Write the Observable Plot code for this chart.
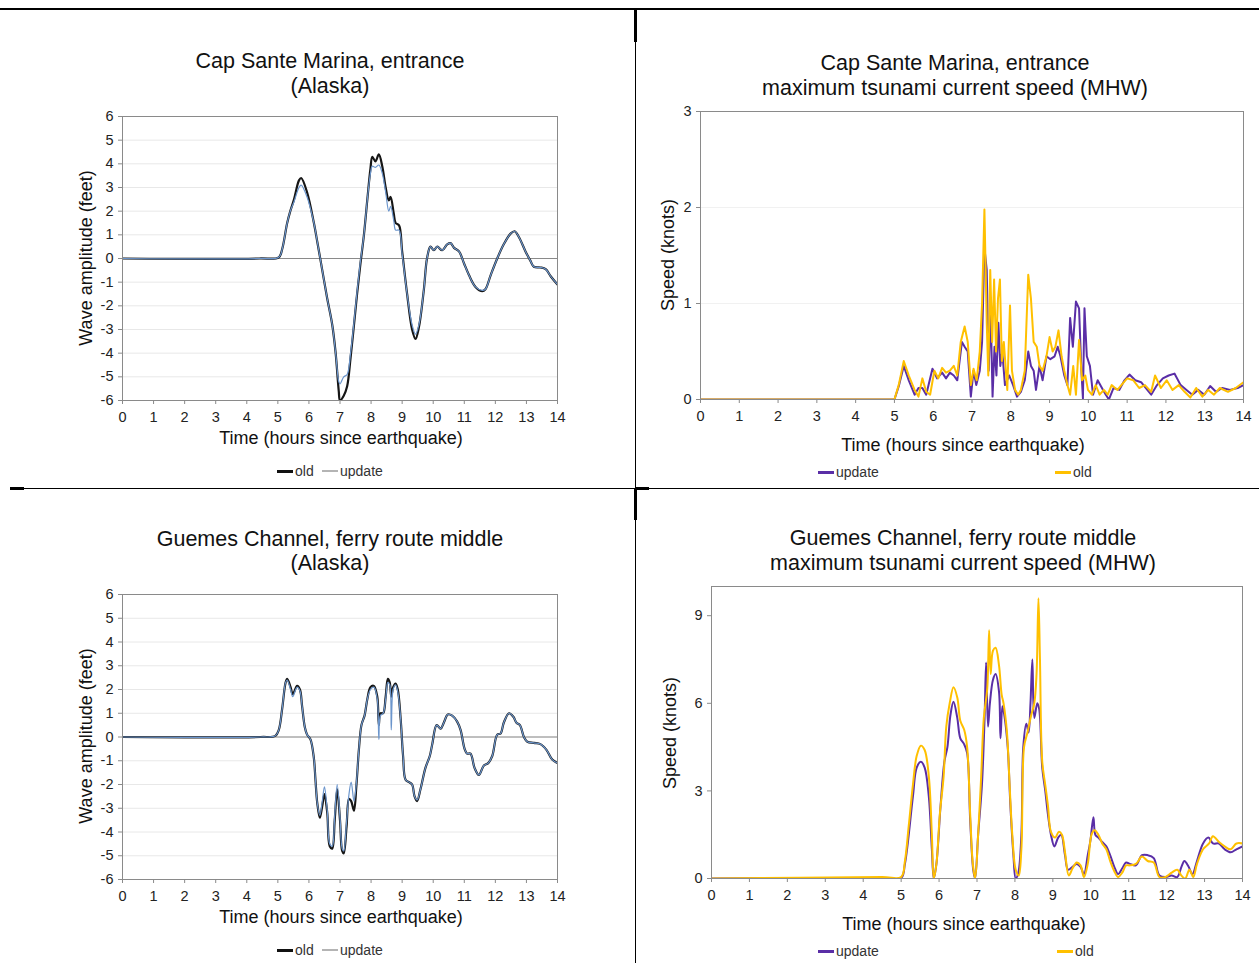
<!DOCTYPE html>
<html><head><meta charset="utf-8">
<script src="https://cdn.jsdelivr.net/npm/d3@7"></script>
<script src="https://cdn.jsdelivr.net/npm/@observablehq/plot@0.6"></script>
<style>
body{margin:0;background:#fff;}
#page{position:relative;width:1259px;height:963px;overflow:hidden;font-family:"Liberation Sans",Arial,sans-serif;color:#111;background:#fff;}
.t{position:absolute;white-space:nowrap;transform:translate(-50%,-50%);line-height:1;}
.rot{position:absolute;white-space:nowrap;transform:translate(-50%,-50%) rotate(-90deg);line-height:1;font-size:18px;}
.rule{position:absolute;background:#000;}
.panel{position:absolute;}
.leg{position:absolute;font-size:14px;white-space:nowrap;transform:translateY(-50%);display:flex;align-items:center;color:#333;line-height:1;}
.leg i{display:inline-block;width:16px;margin-right:2px;}
</style></head><body><div id="page"></div>
<script>
// ---------- data ----------
const hourTicks = [0,1,2,3,4,5,6,7,8,9,10,11,12,13,14];
const waveTicks = [-6,-5,-4,-3,-2,-1,0,1,2,3,4,5,6];
const capSpeedTicks = [0,1,2,3];
const gueSpeedTicks = [0,3,6,9];

// Cap Sante Marina, entrance - wave amplitude (feet)
const capT = [0,4.4,5.03,5.14,5.3,5.4,5.52,5.68,5.75,5.94,6.16,6.27,6.43,6.59,6.75,6.86,6.96,7.0,7.12,7.23,7.34,7.45,7.55,7.66,7.77,7.88,7.98,8.04,8.14,8.25,8.36,8.47,8.57,8.63,8.73,8.79,8.9,9.0,9.16,9.32,9.43,9.54,9.7,9.8,9.91,10.02,10.13,10.29,10.45,10.56,10.67,10.83,10.99,11.15,11.36,11.58,11.68,11.85,12.06,12.27,12.49,12.62,12.76,12.97,13.13,13.24,13.45,13.62,13.78,14.0];
const capOld = [0,0,0.05,0.4,1.5,2.0,2.5,3.3,3.4,2.8,1.5,0.7,-0.5,-1.7,-2.8,-4.0,-5.6,-6.0,-5.8,-5.4,-4.2,-2.8,-1.5,-0.2,1.0,2.5,3.8,4.3,4.1,4.4,3.9,3.0,2.45,2.6,1.9,1.5,1.4,0.3,-1.5,-3.0,-3.4,-2.9,-1.3,0.0,0.5,0.35,0.5,0.35,0.6,0.65,0.45,0.3,-0.2,-0.7,-1.2,-1.38,-1.3,-0.7,0.0,0.6,1.05,1.15,0.9,0.3,-0.1,-0.35,-0.38,-0.45,-0.75,-1.1];
const capUpd = [0,0,0.05,0.4,1.5,2.0,2.4,3.0,3.1,2.6,1.5,0.7,-0.5,-1.7,-2.8,-4.0,-5.2,-5.3,-5.0,-4.9,-4.0,-2.7,-1.4,-0.1,1.0,2.5,3.6,3.9,3.85,3.95,3.6,2.8,2.0,2.2,1.6,1.2,1.2,0.2,-1.5,-2.8,-3.2,-2.8,-1.3,0.0,0.5,0.35,0.5,0.35,0.6,0.65,0.45,0.3,-0.2,-0.7,-1.2,-1.35,-1.3,-0.7,0.0,0.6,1.05,1.15,0.9,0.3,-0.1,-0.35,-0.38,-0.45,-0.75,-1.1];

// Guemes Channel, ferry route middle - wave amplitude (feet)
const gueT = [0,4.44,4.92,5.03,5.14,5.25,5.3,5.41,5.48,5.62,5.71,5.78,5.87,5.94,6.05,6.16,6.21,6.27,6.35,6.43,6.5,6.59,6.67,6.75,6.83,6.91,7.0,7.07,7.12,7.21,7.29,7.36,7.45,7.53,7.61,7.69,7.79,7.88,7.98,8.09,8.2,8.25,8.3,8.39,8.47,8.54,8.6,8.65,8.71,8.79,8.86,8.95,9.03,9.11,9.22,9.32,9.4,9.48,9.59,9.75,9.89,9.97,10.11,10.24,10.34,10.47,10.61,10.77,10.88,11.01,11.09,11.2,11.33,11.47,11.63,11.77,11.9,12.06,12.17,12.27,12.44,12.58,12.68,12.79,12.92,13.03,13.24,13.45,13.65,13.83,14.0];
const gueOld = [0,0,0.05,0.3,1.2,2.3,2.45,2.1,1.8,2.15,2.0,1.3,0.4,0.1,-0.1,-0.9,-1.8,-2.8,-3.4,-2.9,-2.4,-3.2,-4.6,-4.7,-3.5,-2.2,-3.5,-4.8,-4.9,-3.8,-2.6,-2.7,-3.1,-2.0,-0.5,0.5,0.9,1.6,2.1,2.15,1.7,0.5,1.0,1.0,1.7,2.45,2.3,1.7,2.1,2.25,2.0,0.8,-0.8,-1.8,-1.9,-2.0,-2.5,-2.7,-2.2,-1.3,-0.8,-0.3,0.5,0.35,0.6,0.95,0.9,0.65,0.3,-0.5,-0.7,-0.7,-1.3,-1.6,-1.2,-1.1,-0.8,0.1,0.15,0.6,1.0,0.85,0.6,0.5,0.0,-0.2,-0.25,-0.3,-0.55,-0.95,-1.1];
const gueUpd = [0,0,0.05,0.3,1.2,2.3,2.4,2.0,1.7,2.1,1.95,1.3,0.4,0.1,-0.1,-0.9,-1.8,-2.8,-3.3,-2.7,-2.1,-3.1,-4.5,-4.6,-3.3,-2.0,-3.4,-4.7,-4.8,-3.6,-2.4,-1.9,-2.7,-1.9,-0.5,0.5,0.9,1.6,2.0,2.1,1.6,-0.1,0.9,1.0,1.6,2.3,2.2,0.3,2.0,2.2,1.9,0.8,-0.8,-1.8,-1.9,-2.0,-2.5,-2.65,-2.2,-1.3,-0.8,-0.3,0.5,0.35,0.6,0.95,0.9,0.65,0.3,-0.5,-0.7,-0.7,-1.3,-1.6,-1.2,-1.1,-0.8,0.1,0.15,0.6,1.0,0.85,0.6,0.5,0.0,-0.2,-0.25,-0.3,-0.55,-0.95,-1.1];

// Cap Sante Marina, entrance - max current speed (knots)
const capSpdOldT = [0,5.0,5.11,5.24,5.37,5.52,5.62,5.72,5.82,5.92,6.03,6.13,6.23,6.33,6.43,6.53,6.62,6.71,6.81,6.89,6.97,7.04,7.12,7.2,7.26,7.32,7.38,7.42,7.47,7.52,7.57,7.62,7.67,7.72,7.77,7.82,7.91,7.98,8.03,8.11,8.19,8.26,8.36,8.45,8.52,8.59,8.67,8.74,8.82,8.92,9.0,9.08,9.15,9.23,9.31,9.38,9.46,9.53,9.61,9.68,9.76,9.84,9.92,9.99,10.09,10.19,10.29,10.4,10.5,10.6,10.75,10.85,11.0,11.16,11.31,11.46,11.62,11.72,11.87,12.02,12.17,12.33,12.48,12.63,12.78,12.94,13.09,13.24,13.39,13.6,13.8,14.0];
const capSpdOld = [0,0,0.15,0.4,0.25,0.1,0.03,0.22,0.08,0.05,0.3,0.22,0.33,0.28,0.3,0.35,0.25,0.6,0.76,0.6,0.15,0.32,0.2,0.5,1.0,1.98,0.8,0.25,1.35,0.6,1.25,0.5,1.05,1.25,0.4,0.6,0.1,0.98,0.3,0.1,0.05,0.1,0.3,1.3,1.05,0.6,0.55,0.35,0.3,0.45,0.65,0.5,0.55,0.72,0.45,0.3,0.15,0.05,0.35,0.05,0.62,0.2,0.25,0.1,0.05,0.15,0.05,0.1,0.05,0.15,0.1,0.15,0.22,0.2,0.12,0.15,0.08,0.25,0.12,0.2,0.1,0.15,0.08,0.02,0.12,0.03,0.1,0.05,0.12,0.08,0.12,0.18];
const capSpdUpdT = [0,5.0,5.12,5.24,5.37,5.52,5.62,5.72,5.82,5.98,6.1,6.23,6.33,6.43,6.53,6.62,6.74,6.81,6.89,6.97,7.04,7.11,7.2,7.26,7.32,7.38,7.43,7.48,7.53,7.58,7.63,7.68,7.73,7.78,7.85,7.96,8.06,8.16,8.26,8.36,8.45,8.52,8.59,8.65,8.74,8.82,8.92,9.02,9.13,9.21,9.28,9.38,9.46,9.53,9.6,9.68,9.76,9.82,9.86,9.9,9.96,10.04,10.12,10.24,10.35,10.45,10.53,10.65,10.8,10.93,11.06,11.21,11.36,11.52,11.62,11.77,11.92,12.07,12.22,12.38,12.53,12.68,12.83,12.99,13.14,13.29,13.45,13.65,13.85,14.0];
const capSpdUpd = [0,0,0.15,0.35,0.2,0.05,0.12,0.12,0.05,0.32,0.22,0.28,0.22,0.28,0.25,0.2,0.6,0.55,0.5,0.03,0.3,0.15,0.3,0.6,1.58,1.35,0.3,0.95,0.03,0.55,0.25,0.8,0.35,0.5,0.15,0.25,0.15,0.03,0.08,0.2,0.5,0.35,0.3,0.1,0.35,0.2,0.45,0.42,0.45,0.55,0.45,0.25,0.15,0.85,0.55,1.02,0.95,0.3,0.01,0.95,0.45,0.35,0.05,0.2,0.12,0.05,0.0,0.12,0.1,0.2,0.26,0.2,0.18,0.1,0.05,0.15,0.22,0.25,0.27,0.15,0.1,0.05,0.1,0.05,0.14,0.08,0.12,0.1,0.12,0.15];

// Guemes Channel, ferry route middle - max current speed (knots)
const gueSpdOldT = [0,4.5,5.0,5.1,5.2,5.31,5.41,5.52,5.62,5.73,5.81,5.86,5.93,6.02,6.12,6.19,6.28,6.38,6.48,6.56,6.66,6.74,6.82,6.89,6.95,7.03,7.11,7.18,7.27,7.32,7.36,7.42,7.49,7.58,7.65,7.7,7.79,7.86,7.93,8.02,8.1,8.17,8.24,8.33,8.43,8.51,8.57,8.62,8.66,8.72,8.8,8.87,8.95,9.06,9.16,9.24,9.32,9.42,9.52,9.63,9.73,9.82,9.92,10.02,10.1,10.2,10.3,10.41,10.51,10.62,10.72,10.83,10.93,11.03,11.19,11.35,11.5,11.66,11.81,11.97,12.13,12.28,12.39,12.49,12.6,12.7,12.8,12.96,13.12,13.22,13.38,13.53,13.69,13.84,14.0];
const gueSpdOld = [0,0.05,0.05,0.6,1.8,3.2,4.2,4.55,4.4,3.5,1.5,0.0,0.5,2.2,3.5,5.2,6.0,6.55,6.2,5.4,5.1,4.5,2.2,0.5,0.0,1.5,3.5,5.5,6.5,8.5,7.0,7.8,7.9,7.3,6.3,6.0,5.0,3.2,1.5,0.3,0.1,1.0,4.5,5.0,5.6,6.0,7.0,9.6,7.5,4.0,3.2,2.5,1.6,1.4,1.6,1.5,0.9,0.1,0.35,0.55,0.45,0.05,0.5,1.5,1.65,1.5,1.2,1.0,0.6,0.25,0.05,0.2,0.45,0.45,0.5,0.75,0.6,0.55,0.05,0.05,0.2,0.3,0.1,0.0,0.3,0.05,0.5,1.0,1.2,1.45,1.25,1.1,1.0,1.2,1.2];
const gueSpdUpdT = [0,4.5,5.0,5.1,5.31,5.41,5.52,5.62,5.73,5.81,5.86,5.93,6.04,6.14,6.22,6.3,6.38,6.48,6.56,6.66,6.74,6.82,6.9,6.95,7.03,7.13,7.2,7.24,7.29,7.34,7.42,7.49,7.58,7.62,7.67,7.72,7.81,7.88,7.96,8.02,8.09,8.17,8.22,8.3,8.36,8.41,8.46,8.51,8.59,8.64,8.72,8.8,8.87,8.95,9.04,9.14,9.22,9.32,9.4,9.52,9.63,9.73,9.82,9.92,9.99,10.07,10.12,10.2,10.3,10.41,10.51,10.62,10.72,10.83,10.93,11.03,11.19,11.35,11.5,11.66,11.81,11.97,12.13,12.28,12.39,12.47,12.58,12.68,12.8,12.96,13.1,13.22,13.38,13.53,13.69,13.84,14.0];
const gueSpdUpd = [0,0.02,0.02,0.5,2.8,3.8,4.0,3.8,2.8,1.0,0.0,0.5,2.5,4.0,4.5,5.6,6.05,5.5,4.8,4.6,4.3,2.0,0.3,0.0,1.5,3.2,5.5,7.4,5.2,6.0,6.8,7.0,6.4,4.8,5.9,5.6,4.5,2.5,0.8,0.0,0.2,1.5,4.5,5.3,5.0,6.0,7.5,5.5,6.0,5.8,3.8,3.0,2.2,1.5,1.1,1.4,1.5,0.8,0.3,0.4,0.5,0.4,0.15,0.8,1.3,2.1,1.5,1.4,1.25,1.1,0.8,0.4,0.15,0.35,0.55,0.5,0.45,0.8,0.8,0.7,0.1,0.05,0.1,0.05,0.4,0.6,0.4,0.15,0.6,1.2,1.4,1.2,1.2,1.0,0.9,1.0,1.1];

// ---------- styles ----------
const OLD_WAVE = "#161616", UPD_WAVE = "#6b95cc";
const UPD_SPD = "#5a2ea6", OLD_SPD = "#ffc000";
const AXIS = "#8a8a8a";

const page = document.getElementById("page");
function el(cls, css, text){
  const d = document.createElement("div");
  d.className = cls; Object.assign(d.style, css);
  if (text != null) d.textContent = text;
  page.appendChild(d); return d;
}

// table border lines
el("rule",{left:"0px",top:"8px",width:"1259px",height:"2px"});
el("rule",{left:"634px",top:"9px",width:"3px",height:"33px"});
el("rule",{left:"635px",top:"9px",width:"1px",height:"954px"});
el("rule",{left:"10px",top:"488px",width:"1249px",height:"1px"});
el("rule",{left:"10px",top:"487px",width:"14px",height:"3px"});
el("rule",{left:"635px",top:"487px",width:"14px",height:"3px"});
el("rule",{left:"634px",top:"488px",width:"3px",height:"32px"});

const panels = [
  {left:0, top:100, width:600, height:360, ml:122, mr:43, mt:16, mb:60,
   y:[-6,6], yt:waveTicks, grid:waveTicks, gridColor:"#e8e8e8", zero:true, curve:"catmull-rom",
   series:[{t:capT, v:capOld, c:OLD_WAVE, w:2.2},{t:capT, v:capUpd, c:UPD_WAVE, w:1.2}],
   title:["Cap Sante Marina, entrance","(Alaska)"], tx:330, ty:[62,87],
   xl:[341,438], yl:[86,258], ylabel:"Wave amplitude (feet)",
   legend:[{x:277,y:471,c:"#111",h:3,label:"old"},{x:322,y:471,c:"#b4b4b4",h:2,label:"update"}]},
  {left:640, top:95, width:619, height:344, ml:60, mr:16, mt:16, mb:40,
   y:[0,3], yt:capSpeedTicks, grid:[1,2], gridColor:"#f1f1f1", zero:false, curve:"linear",
   series:[{t:capSpdUpdT, v:capSpdUpd, c:UPD_SPD, w:2},{t:capSpdOldT, v:capSpdOld, c:OLD_SPD, w:2}],
   title:["Cap Sante Marina, entrance","maximum tsunami current speed (MHW)"], tx:955, ty:[64,89],
   xl:[963,445], yl:[668,255], ylabel:"Speed (knots)",
   legend:[{x:818,y:472,c:UPD_SPD,h:3,label:"update"},{x:1055,y:472,c:OLD_SPD,h:3,label:"old"}]},
  {left:0, top:578, width:600, height:361, ml:122, mr:43, mt:16, mb:60,
   y:[-6,6], yt:waveTicks, grid:waveTicks, gridColor:"#e8e8e8", zero:true, curve:"catmull-rom",
   series:[{t:gueT, v:gueOld, c:OLD_WAVE, w:2.2},{t:gueT, v:gueUpd, c:UPD_WAVE, w:1.2}],
   title:["Guemes Channel, ferry route middle","(Alaska)"], tx:330, ty:[540,564],
   xl:[341,917], yl:[86,736], ylabel:"Wave amplitude (feet)",
   legend:[{x:277,y:950,c:"#111",h:3,label:"old"},{x:322,y:950,c:"#b4b4b4",h:2,label:"update"}]},
  {left:640, top:570, width:619, height:348, ml:71, mr:17, mt:16, mb:40,
   y:[0,10], yt:gueSpeedTicks, grid:[], gridColor:"#f1f1f1", zero:false, curve:"catmull-rom",
   series:[{t:gueSpdUpdT, v:gueSpdUpd, c:UPD_SPD, w:2},{t:gueSpdOldT, v:gueSpdOld, c:OLD_SPD, w:2}],
   title:["Guemes Channel, ferry route middle","maximum tsunami current speed (MHW)"], tx:963, ty:[539,564],
   xl:[964,924], yl:[670,733], ylabel:"Speed (knots)",
   legend:[{x:818,y:951,c:UPD_SPD,h:3,label:"update"},{x:1057,y:951,c:OLD_SPD,h:3,label:"old"}]}
];

for (const p of panels){
  const marks = [];
  if (p.grid.length) marks.push(Plot.ruleY(p.grid, {stroke:p.gridColor, strokeWidth:1}));
  if (p.zero) marks.push(Plot.ruleY([0], {stroke:AXIS, strokeWidth:1}));
  for (const s of p.series){
    const rows = s.t.map((t,i)=>({t, v:s.v[i]}));
    marks.push(Plot.line(rows, {x:"t", y:"v", stroke:s.c, strokeWidth:s.w, curve:p.curve, clip:true, strokeLinejoin:"round"}));
  }
  marks.push(Plot.frame({stroke:AXIS}));
  marks.push(Plot.axisX({ticks:hourTicks, tickSize:4, tickPadding:7, tickFormat:d=>String(d), stroke:AXIS, fill:"#222", fontSize:14.5, label:null}));
  marks.push(Plot.axisY({ticks:p.yt, tickSize:4, tickPadding:5, tickFormat:d=>String(d), stroke:AXIS, fill:"#222", fontSize:14.5, label:null}));
  const svg = Plot.plot({
    width:p.width, height:p.height,
    marginLeft:p.ml, marginRight:p.mr, marginTop:p.mt, marginBottom:p.mb,
    x:{domain:[0,14]}, y:{domain:p.y},
    style:{fontFamily:"'Liberation Sans', Arial, sans-serif", fontSize:"14.5px", background:"transparent", color:"#222", overflow:"visible"},
    marks
  });
  const holder = el("panel",{left:p.left+"px", top:p.top+"px"});
  holder.appendChild(svg);

  p.title.forEach((line,i)=> el("t",{left:p.tx+"px", top:p.ty[i]+"px", fontSize:"21.5px"}, line));
  el("t",{left:p.xl[0]+"px", top:p.xl[1]+"px", fontSize:"18px"}, "Time (hours since earthquake)");
  el("rot",{left:p.yl[0]+"px", top:p.yl[1]+"px"}, p.ylabel);
  for (const l of p.legend){
    const d = el("leg",{left:l.x+"px", top:l.y+"px"});
    const sw = document.createElement("i");
    sw.style.height = l.h+"px"; sw.style.background = l.c;
    d.appendChild(sw);
    d.appendChild(document.createTextNode(l.label));
  }
}
</script>
</body></html>
